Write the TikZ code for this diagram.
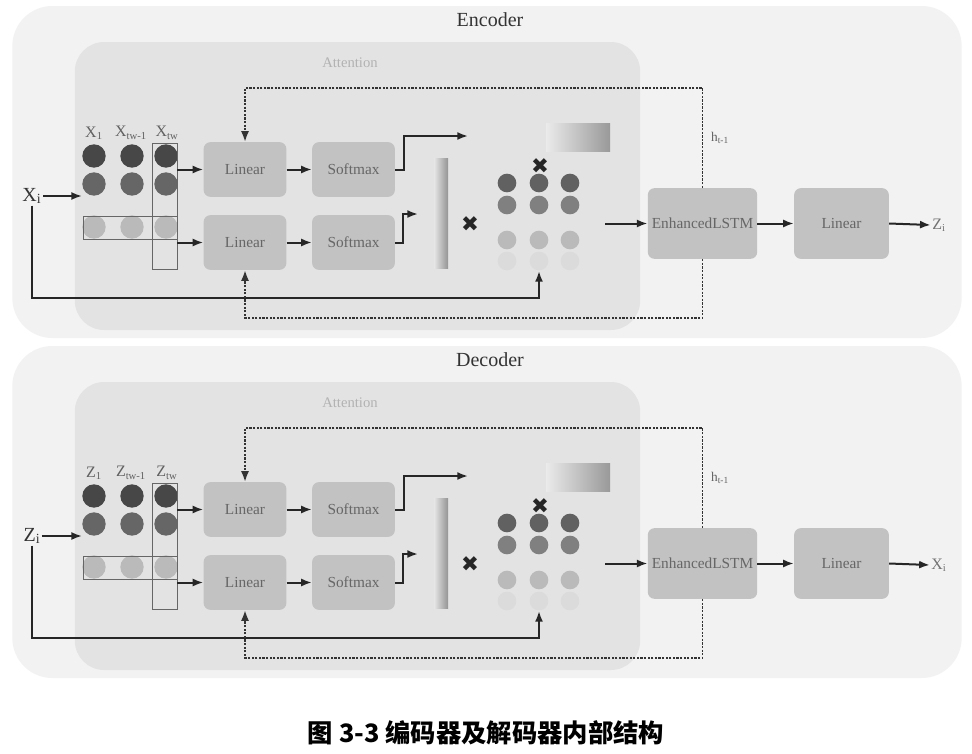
\documentclass[tikz,border=0pt]{standalone}
\usepackage{fontspec}
\setmainfont{Liberation Serif}
\newfontfamily\cjk{Noto Sans CJK SC}
\newfontfamily\dejavu{DejaVu Sans}
\usetikzlibrary{arrows.meta}
\tikzset{
  outerbox/.style={fill=black!5, draw=none, rounded corners=30pt, inner sep=0pt},
  attbox/.style={fill=black!11, draw=none, rounded corners=22pt, inner sep=0pt},
  blk/.style={fill=black!24, draw=none, rounded corners=5pt, text=black!60, font=\fontsize{11.5}{12}\selectfont, inner sep=0pt},
  indot/.style={circle, draw=none, inner sep=0pt, minimum size=17.5pt},
  mdot/.style={circle, draw=none, inner sep=0pt, minimum size=14pt},
  arr/.style={-{Latex[length=8pt,width=6pt]}, line width=1.5pt, draw=black!85},
  dotline/.style={dash pattern=on 1.7pt off 1pt, line width=1.4pt, draw=black!80},
  dotarr/.style={dotline, -{Latex[length=8pt,width=6pt]}},
  frame/.style={draw=black!60, line width=0.7pt, inner sep=0pt},
  lbl/.style={text=black!62, font=\fontsize{12}{12}\selectfont, inner sep=0pt},
  xmark/.style={font=\dejavu\fontsize{16}{16}\selectfont, text=black!85, inner sep=0pt},
  gradbox/.style={draw=none, inner sep=0pt}
}
\newcommand\encdec[5]{%
\begin{scope}[shift={(0,#2)}]
  \node[outerbox, minimum width=712pt, minimum height=249pt] (#1-outer) at (487,172) {};
  \node[font=\fontsize{15}{15}\selectfont, text=black!80] (#1-title) at (490,20) {#3};
  \node[attbox, minimum width=424pt, minimum height=216pt] (#1-att) at (357.5,186) {};
  \node[text=black!30, font=\fontsize{11}{11}\selectfont] (#1-attl) at (350,63) {Attention};
  % input matrix
  \node[indot, fill=black!72] (#1-c11) at (94,156) {};
  \node[indot, fill=black!72] (#1-c12) at (132,156) {};
  \node[indot, fill=black!72] (#1-c13) at (166,156) {};
  \node[indot, fill=black!60] (#1-c21) at (94,184) {};
  \node[indot, fill=black!60] (#1-c22) at (132,184) {};
  \node[indot, fill=black!60] (#1-c23) at (166,184) {};
  \node[indot, fill=black!27] (#1-c31) at (94,227) {};
  \node[indot, fill=black!27] (#1-c32) at (132,227) {};
  \node[indot, fill=black!27] (#1-c33) at (166,227) {};
  \node[frame, minimum width=70.5pt, minimum height=17.25pt] (#1-rowr) at (130,227.5) {};
  \node[frame, minimum width=18.75pt, minimum height=94.5pt] (#1-colr) at (164.5,206) {};
  \node[lbl] (#1-h1) at (94,133) {#4\textsubscript{1}};
  \node[lbl] (#1-h2) at (131,133) {#4\textsubscript{tw-1}};
  \node[lbl] (#1-h3) at (167,133) {#4\textsubscript{tw}};
  \node[font=\fontsize{15}{15}\selectfont, text=black!80, inner sep=1pt] (#1-in) at (32,196) {#4\textsubscript{i}};
  % blocks
  \node[blk, minimum width=62pt, minimum height=41pt] (#1-l1) at (245,169.5) {Linear};
  \node[blk, minimum width=62pt, minimum height=41pt] (#1-l2) at (245,242.5) {Linear};
  \node[blk, minimum width=62pt, minimum height=41pt] (#1-s1) at (353.5,169.5) {Softmax};
  \node[blk, minimum width=62pt, minimum height=41pt] (#1-s2) at (353.5,242.5) {Softmax};
  \node[blk, minimum width=82pt, minimum height=53pt] (#1-lstm) at (702.5,223.5) {EnhancedLSTM};
  \node[blk, minimum width=71pt, minimum height=53pt] (#1-lin) at (841.5,223.5) {Linear};
  % weights
  \node[gradbox, left color=black!8, right color=black!40, minimum width=48pt, minimum height=21pt] (#1-grad) at (578,137.5) {};
  \node[gradbox, left color=black!10, right color=black!42, minimum width=10.5pt, minimum height=83pt] (#1-bar) at (441,213.5) {};
  \node[xmark] (#1-x1) at (470,224) {✖};
  \node[xmark] (#1-x2) at (540,166) {✖};
  \node[mdot, fill=black!62] (#1-m11) at (507,183) {};
  \node[mdot, fill=black!62] (#1-m12) at (539,183) {};
  \node[mdot, fill=black!62] (#1-m13) at (570,183) {};
  \node[mdot, fill=black!50] (#1-m21) at (507,205) {};
  \node[mdot, fill=black!50] (#1-m22) at (539,205) {};
  \node[mdot, fill=black!50] (#1-m23) at (570,205) {};
  \node[mdot, fill=black!27] (#1-m31) at (507,240) {};
  \node[mdot, fill=black!27] (#1-m32) at (539,240) {};
  \node[mdot, fill=black!27] (#1-m33) at (570,240) {};
  \node[mdot, fill=black!14] (#1-m41) at (507,261) {};
  \node[mdot, fill=black!14] (#1-m42) at (539,261) {};
  \node[mdot, fill=black!14] (#1-m43) at (570,261) {};
  \node[lbl, font=\fontsize{10}{10}\selectfont] (#1-hl) at (720,138) {h\textsubscript{t-1}};
  \node[font=\fontsize{12}{12}\selectfont, text=black!55, inner sep=1pt] (#1-out) at (939,225) {#5\textsubscript{i}};
  % coordinates
  \coordinate (#1-a1) at (468,136);
  \coordinate (#1-a2) at (418,214);
  \coordinate (#1-top) at (0,88);
  \coordinate (#1-bd) at (0,318);
  \coordinate (#1-bot) at (539,298);
  \coordinate (#1-mx) at (539,271);
  \coordinate (#1-mo) at (605,223.5);
  % connectors
  \draw[arr] (#1-in.east) -- (#1-in.east -| #1-c21.west);
  \draw[arr] (#1-colr.east |- #1-l1) -- (#1-l1.west);
  \draw[arr] (#1-colr.east |- #1-l2) -- (#1-l2.west);
  \draw[arr] (#1-l1.east) -- (#1-s1.west);
  \draw[arr] (#1-l2.east) -- (#1-s2.west);
  \draw[arr] (#1-s1.east) -- ++(9,0) |- (#1-a1);
  \draw[arr] (#1-s2.east) -- ++(8,0) |- (#1-a2);
  \draw[arr] (#1-in.south) |- (#1-bot) -- (#1-mx);
  \draw[dotarr] (#1-lstm.north) -- (#1-lstm.north |- #1-top) -| (#1-l1.north);
  \draw[dotarr] (#1-lstm.south) -- (#1-lstm.south |- #1-bd) -| (#1-l2.south);
  \draw[arr] (#1-mo) -- (#1-lstm.west);
  \draw[arr] (#1-lstm.east) -- (#1-lin.west);
  \draw[arr] (#1-lin.east) -- (#1-out.west);
\end{scope}}
\begin{document}
\begin{tikzpicture}[x=0.75pt,y=-0.75pt]
  \useasboundingbox (0,0) rectangle (972,754);
  \fill[white] (0,0) rectangle (972,754);
  \encdec{e}{0}{Encoder}{X}{Z}
  \encdec{d}{340}{Decoder}{Z}{X}
  \node[font=\cjk\bfseries\fontsize{19}{19}\selectfont] (cap) at (486,733) {图 3-3 编码器及解码器内部结构};
\end{tikzpicture}
\end{document}
